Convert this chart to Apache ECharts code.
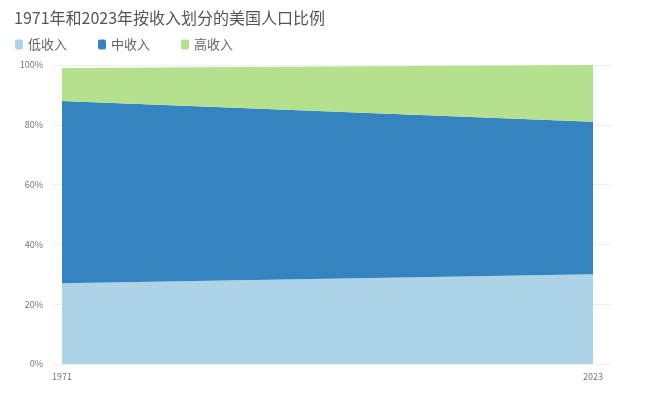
<!DOCTYPE html>
<html>
<head>
<meta charset="utf-8">
<script src="https://cdn.jsdelivr.net/npm/echarts@6/dist/echarts.min.js"></script>
<style>
  html, body { margin: 0; padding: 0; background: #fff; }
  #main { width: 650px; height: 400px; }
</style>
</head>
<body>
<div id="main"></div>
<script>
// 年份与各收入阶层占比 (%)
const years = ['1971', '2023'];
const lowIncome = [27, 30];
const midIncome = [61, 51];
const highIncome = [11, 19];
const seriesNames = ['低收入', '中收入', '高收入'];
const colors = ['#aed2e6', '#3584bf', '#b5e18f'];

const chart = echarts.init(document.getElementById('main'));

const option = {
  color: colors,
  textStyle: { fontFamily: 'Noto Sans CJK SC' },
  title: {
    text: '1971年和2023年按收入划分的美国人口比例',
    left: 9,
    top: 5,
    textStyle: { fontSize: 16, fontWeight: 'normal', color: '#555' }
  },
  legend: {
    left: 10,
    top: 33,
    icon: 'roundRect',
    itemWidth: 8,
    itemHeight: 10,
    itemGap: 31,
    textStyle: { fontSize: 13, color: '#666' },
    data: seriesNames
  },
  // grid 0: the wider frame with the % gridlines, grid 1: the areas
  grid: [
    { left: 52, right: 38, top: 65, bottom: 36 },
    { left: 62, right: 57, top: 65, bottom: 36 }
  ],
  xAxis: [
    {
      gridIndex: 0,
      type: 'value',
      min: 0,
      max: 1,
      show: true,
      splitLine: { show: false },
      axisLine: { show: true, lineStyle: { color: '#eee' } },
      axisTick: { show: false },
      axisLabel: { show: false }
    },
    {
      gridIndex: 1,
      type: 'category',
      boundaryGap: false,
      data: years,
      axisLine: { show: false },
      axisTick: { show: false },
      axisLabel: { fontSize: 9, color: '#777', margin: 8 }
    }
  ],
  yAxis: [
    {
      gridIndex: 0,
      type: 'value',
      min: 0,
      max: 100,
      interval: 20,
      axisLine: { show: false },
      axisTick: { show: false },
      axisLabel: { formatter: '{value}%', fontSize: 9, color: '#777', margin: 9 },
      splitLine: { lineStyle: { color: '#eee' } }
    },
    {
      gridIndex: 1,
      type: 'value',
      min: 0,
      max: 100,
      show: false,
      splitLine: { show: false }
    }
  ],
  series: [
    { name: seriesNames[0], data: lowIncome },
    { name: seriesNames[1], data: midIncome },
    { name: seriesNames[2], data: highIncome }
  ].map((s, i) => ({
    ...s,
    type: 'line',
    xAxisIndex: 1,
    yAxisIndex: 1,
    stack: 'total',
    showSymbol: false,
    lineStyle: { width: 0 },
    areaStyle: { color: colors[i], opacity: 1 }
  }))
};

chart.setOption(option);
</script>
</body>
</html>
